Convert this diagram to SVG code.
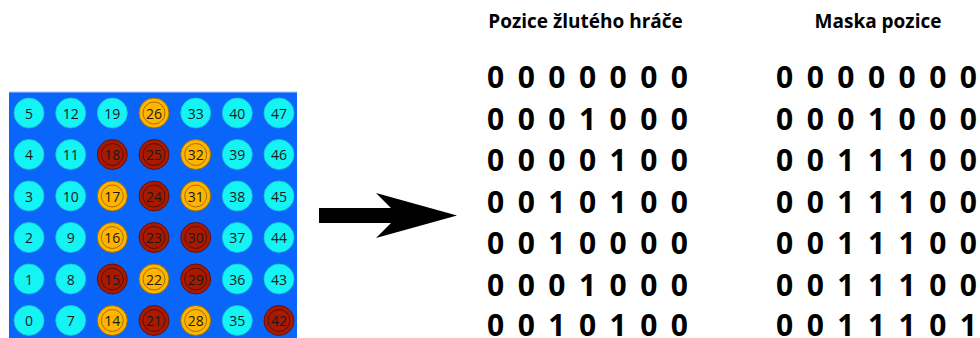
<svg xmlns="http://www.w3.org/2000/svg" width="980" height="338" viewBox="0 0 980 338">
<style>
.num{font-family:"Open Sans","Noto Sans",sans-serif;font-size:14px;fill:#1a1a1a;text-anchor:middle;dominant-baseline:central}
.c{fill:#14f4f4;stroke:#18c8d0;stroke-width:0.8}
.y{fill:#ffb400;stroke:#9a6a00;stroke-width:0.9}
.r{fill:#a81a00;stroke:#5e0e00;stroke-width:0.9}
.ring{fill:none;stroke-width:0.8}
.yr{stroke:#8a5e00}
.rr{stroke:#4a0800}
.title{font-family:"Open Sans","Noto Sans",sans-serif;font-weight:700;font-size:19px;fill:#000;text-anchor:middle}
.bits{font-family:"Open Sans","Noto Sans",sans-serif;font-weight:700;font-size:30px;fill:#000}
</style>
<rect width="980" height="338" fill="#fff"/>
<g id="board">
<rect x="9" y="92" width="288" height="250" fill="#0a66fa"/>
<line x1="9" y1="92" x2="297" y2="92" stroke="#a9c8ff" stroke-width="1.2"/>
</g>
<g id="cells">
<g id="c5"><circle class="c" cx="29" cy="113" r="15"/><text class="num" x="29" y="113">5</text></g>
<g id="c12"><circle class="c" cx="70.7" cy="113" r="15"/><text class="num" x="70.7" y="113">12</text></g>
<g id="c19"><circle class="c" cx="112.3" cy="113" r="15"/><text class="num" x="112.3" y="113">19</text></g>
<g id="c26"><circle class="y" cx="154" cy="113" r="15"/><circle class="ring yr" cx="154" cy="113" r="11"/><text class="num" x="154" y="113">26</text></g>
<g id="c33"><circle class="c" cx="195.7" cy="113" r="15"/><text class="num" x="195.7" y="113">33</text></g>
<g id="c40"><circle class="c" cx="237.3" cy="113" r="15"/><text class="num" x="237.3" y="113">40</text></g>
<g id="c47"><circle class="c" cx="279" cy="113" r="15"/><text class="num" x="279" y="113">47</text></g>

<g id="c4"><circle class="c" cx="29" cy="154.5" r="15"/><text class="num" x="29" y="154.5">4</text></g>
<g id="c11"><circle class="c" cx="70.7" cy="154.5" r="15"/><text class="num" x="70.7" y="154.5">11</text></g>
<g id="c18"><circle class="r" cx="112.3" cy="154.5" r="15"/><circle class="ring rr" cx="112.3" cy="154.5" r="11"/><text class="num" x="112.3" y="154.5">18</text></g>
<g id="c25"><circle class="r" cx="154" cy="154.5" r="15"/><circle class="ring rr" cx="154" cy="154.5" r="11"/><text class="num" x="154" y="154.5">25</text></g>
<g id="c32"><circle class="y" cx="195.7" cy="154.5" r="15"/><circle class="ring yr" cx="195.7" cy="154.5" r="11"/><text class="num" x="195.7" y="154.5">32</text></g>
<g id="c39"><circle class="c" cx="237.3" cy="154.5" r="15"/><text class="num" x="237.3" y="154.5">39</text></g>
<g id="c46"><circle class="c" cx="279" cy="154.5" r="15"/><text class="num" x="279" y="154.5">46</text></g>

<g id="c3"><circle class="c" cx="29" cy="196" r="15"/><text class="num" x="29" y="196">3</text></g>
<g id="c10"><circle class="c" cx="70.7" cy="196" r="15"/><text class="num" x="70.7" y="196">10</text></g>
<g id="c17"><circle class="y" cx="112.3" cy="196" r="15"/><circle class="ring yr" cx="112.3" cy="196" r="11"/><text class="num" x="112.3" y="196">17</text></g>
<g id="c24"><circle class="r" cx="154" cy="196" r="15"/><circle class="ring rr" cx="154" cy="196" r="11"/><text class="num" x="154" y="196">24</text></g>
<g id="c31"><circle class="y" cx="195.7" cy="196" r="15"/><circle class="ring yr" cx="195.7" cy="196" r="11"/><text class="num" x="195.7" y="196">31</text></g>
<g id="c38"><circle class="c" cx="237.3" cy="196" r="15"/><text class="num" x="237.3" y="196">38</text></g>
<g id="c45"><circle class="c" cx="279" cy="196" r="15"/><text class="num" x="279" y="196">45</text></g>

<g id="c2"><circle class="c" cx="29" cy="237.5" r="15"/><text class="num" x="29" y="237.5">2</text></g>
<g id="c9"><circle class="c" cx="70.7" cy="237.5" r="15"/><text class="num" x="70.7" y="237.5">9</text></g>
<g id="c16"><circle class="y" cx="112.3" cy="237.5" r="15"/><circle class="ring yr" cx="112.3" cy="237.5" r="11"/><text class="num" x="112.3" y="237.5">16</text></g>
<g id="c23"><circle class="r" cx="154" cy="237.5" r="15"/><circle class="ring rr" cx="154" cy="237.5" r="11"/><text class="num" x="154" y="237.5">23</text></g>
<g id="c30"><circle class="r" cx="195.7" cy="237.5" r="15"/><circle class="ring rr" cx="195.7" cy="237.5" r="11"/><text class="num" x="195.7" y="237.5">30</text></g>
<g id="c37"><circle class="c" cx="237.3" cy="237.5" r="15"/><text class="num" x="237.3" y="237.5">37</text></g>
<g id="c44"><circle class="c" cx="279" cy="237.5" r="15"/><text class="num" x="279" y="237.5">44</text></g>

<g id="c1"><circle class="c" cx="29" cy="279" r="15"/><text class="num" x="29" y="279">1</text></g>
<g id="c8"><circle class="c" cx="70.7" cy="279" r="15"/><text class="num" x="70.7" y="279">8</text></g>
<g id="c15"><circle class="r" cx="112.3" cy="279" r="15"/><circle class="ring rr" cx="112.3" cy="279" r="11"/><text class="num" x="112.3" y="279">15</text></g>
<g id="c22"><circle class="y" cx="154" cy="279" r="15"/><circle class="ring yr" cx="154" cy="279" r="11"/><text class="num" x="154" y="279">22</text></g>
<g id="c29"><circle class="r" cx="195.7" cy="279" r="15"/><circle class="ring rr" cx="195.7" cy="279" r="11"/><text class="num" x="195.7" y="279">29</text></g>
<g id="c36"><circle class="c" cx="237.3" cy="279" r="15"/><text class="num" x="237.3" y="279">36</text></g>
<g id="c43"><circle class="c" cx="279" cy="279" r="15"/><text class="num" x="279" y="279">43</text></g>

<g id="c0"><circle class="c" cx="29" cy="320.5" r="15"/><text class="num" x="29" y="320.5">0</text></g>
<g id="c7"><circle class="c" cx="70.7" cy="320.5" r="15"/><text class="num" x="70.7" y="320.5">7</text></g>
<g id="c14"><circle class="y" cx="112.3" cy="320.5" r="15"/><circle class="ring yr" cx="112.3" cy="320.5" r="11"/><text class="num" x="112.3" y="320.5">14</text></g>
<g id="c21"><circle class="r" cx="154" cy="320.5" r="15"/><circle class="ring rr" cx="154" cy="320.5" r="11"/><text class="num" x="154" y="320.5">21</text></g>
<g id="c28"><circle class="y" cx="195.7" cy="320.5" r="15"/><circle class="ring yr" cx="195.7" cy="320.5" r="11"/><text class="num" x="195.7" y="320.5">28</text></g>
<g id="c35"><circle class="c" cx="237.3" cy="320.5" r="15"/><text class="num" x="237.3" y="320.5">35</text></g>
<g id="c42"><circle class="r" cx="279" cy="320.5" r="15"/><circle class="ring rr" cx="279" cy="320.5" r="11"/><text class="num" x="279" y="320.5">42</text></g>
</g>
<g id="connectors">
<polygon points="319,208 391,208 376,193 457,215.5 376,238 391,223 319,223" fill="#000"/>
</g>
<g id="yellow-position">
<text class="title" x="585.5" y="28">Pozice žlutého hráče</text>
<g class="bits">
<text x="487" y="88" textLength="201" lengthAdjust="spacing">0 0 0 0 0 0 0</text>
<text x="487" y="129.5" textLength="201" lengthAdjust="spacing">0 0 0 1 0 0 0</text>
<text x="487" y="171" textLength="201" lengthAdjust="spacing">0 0 0 0 1 0 0</text>
<text x="487" y="212.5" textLength="201" lengthAdjust="spacing">0 0 1 0 1 0 0</text>
<text x="487" y="254" textLength="201" lengthAdjust="spacing">0 0 1 0 0 0 0</text>
<text x="487" y="295.5" textLength="201" lengthAdjust="spacing">0 0 0 1 0 0 0</text>
<text x="487" y="336" textLength="201" lengthAdjust="spacing">0 0 1 0 1 0 0</text>
</g>
</g>
<g id="position-mask">
<text class="title" x="878" y="28">Maska pozice</text>
<g class="bits">
<text x="776" y="88" textLength="201" lengthAdjust="spacing">0 0 0 0 0 0 0</text>
<text x="776" y="129.5" textLength="201" lengthAdjust="spacing">0 0 0 1 0 0 0</text>
<text x="776" y="171" textLength="201" lengthAdjust="spacing">0 0 1 1 1 0 0</text>
<text x="776" y="212.5" textLength="201" lengthAdjust="spacing">0 0 1 1 1 0 0</text>
<text x="776" y="254" textLength="201" lengthAdjust="spacing">0 0 1 1 1 0 0</text>
<text x="776" y="295.5" textLength="201" lengthAdjust="spacing">0 0 1 1 1 0 0</text>
<text x="776" y="336" textLength="201" lengthAdjust="spacing">0 0 1 1 1 0 1</text>
</g>
</g>
</svg>
